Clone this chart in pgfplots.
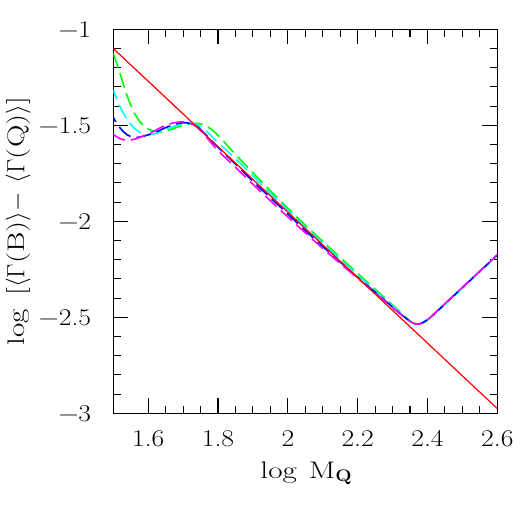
\documentclass[border=0pt]{standalone}
\usepackage{fontspec}
\setmainfont{Latin Modern Roman}[FakeStretch=1.15]
\newfontfamily\lblfont{Latin Modern Roman}[FakeStretch=1.3]
\usepackage{pgfplots}
\pgfplotsset{compat=1.18}
\definecolor{grn}{RGB}{0,255,0}
\definecolor{cyn}{RGB}{0,255,255}
\definecolor{blu}{RGB}{0,0,255}
\definecolor{mag}{RGB}{255,0,255}
\definecolor{rd}{RGB}{255,0,0}

\begin{document}
\begin{tikzpicture}
	\begin{axis}[
		name=ax, scale only axis, width=384pt, height=384pt,
		xmin=1.5, xmax=2.6, ymin=-3, ymax=-1,
		xtick={1.6,1.8,2,2.2,2.4,2.6}, ytick={-3,-2.5,-2,-1.5,-1},
		xticklabels={1.6,1.8,2,2.2,2.4,2.6},
		yticklabels={−3,−2.5,−2,−1.5,−1},
		minor x tick num=3, minor y tick num=4,
		tick pos=both, tick align=inside,
		major tick length=15pt, minor tick length=7.5pt,
		every tick/.style={black, line width=1.1pt},
		axis line style={line width=1.4pt},
		tick label style={font=\fontsize{24}{28}\selectfont, inner sep=0pt},
		xticklabel style={anchor=north, yshift=-17pt},
		yticklabel style={anchor=east, xshift=-22pt},
		label style={font=\fontsize{24}{29}\selectfont\lblfont, inner sep=0pt},
		xlabel={log\enspace M$_{\mathbf{Q}}$},
		xlabel style={at={(axis description cs:0.5,-0.156)}, anchor=center},
		ylabel={log\ \,[$\langle\Gamma$(B)$\rangle-$\ $\langle\Gamma$(Q)$\rangle$]},
		ylabel style={at={(axis description cs:-0.248,0.5)}, anchor=center},
		every axis plot/.append style={line width=1.6pt, dash pattern=on 15pt off 6pt},
		]
		% green
		\addplot[grn, smooth] coordinates {
			(1.50,-1.125) (1.52,-1.235) (1.54,-1.350) (1.56,-1.435) (1.58,-1.490) (1.60,-1.520)
			(1.62,-1.532) (1.64,-1.533) (1.66,-1.525) (1.68,-1.512) (1.70,-1.500) (1.72,-1.492)
			(1.74,-1.490) (1.76,-1.498) (1.78,-1.520) (1.80,-1.552) (1.85,-1.652) (1.90,-1.747)
			(1.95,-1.842) (2.00,-1.932) (2.05,-2.020) (2.10,-2.105) (2.15,-2.188) (2.20,-2.271)
			(2.25,-2.354) (2.30,-2.436) (2.33,-2.487) (2.35,-2.518) (2.36,-2.530) (2.37,-2.536)
			(2.38,-2.535) (2.39,-2.527) (2.40,-2.515) (2.41,-2.501) (2.43,-2.467) (2.45,-2.433)
			(2.48,-2.382) (2.50,-2.348) (2.53,-2.297) (2.55,-2.263) (2.575,-2.221) (2.60,-2.178)};
		% cyan
		\addplot[cyn, smooth, dash phase=5pt] coordinates {
			(1.50,-1.316) (1.52,-1.405) (1.54,-1.470) (1.56,-1.515) (1.58,-1.540) (1.60,-1.548)
			(1.62,-1.543) (1.64,-1.532) (1.66,-1.516) (1.68,-1.502) (1.70,-1.493) (1.72,-1.490)
			(1.74,-1.498) (1.76,-1.520) (1.78,-1.555) (1.80,-1.590) (1.85,-1.674) (1.90,-1.764)
			(1.95,-1.855) (2.00,-1.942) (2.05,-2.030) (2.10,-2.115) (2.15,-2.198) (2.20,-2.280)
			(2.25,-2.362) (2.30,-2.442) (2.33,-2.490) (2.35,-2.520) (2.36,-2.531) (2.37,-2.536)
			(2.38,-2.534) (2.39,-2.525) (2.40,-2.513) (2.41,-2.499) (2.43,-2.465) (2.45,-2.431)
			(2.48,-2.380) (2.50,-2.346) (2.53,-2.295) (2.55,-2.261) (2.575,-2.219) (2.60,-2.176)};
		% blue
		\addplot[blu, smooth, dash phase=10pt] coordinates {
			(1.50,-1.460) (1.52,-1.515) (1.54,-1.550) (1.56,-1.563) (1.58,-1.560) (1.60,-1.550)
			(1.62,-1.537) (1.64,-1.520) (1.66,-1.505) (1.68,-1.493) (1.70,-1.487) (1.72,-1.490)
			(1.74,-1.506) (1.76,-1.540) (1.78,-1.578) (1.80,-1.615) (1.85,-1.702) (1.90,-1.792)
			(1.95,-1.877) (2.00,-1.962) (2.05,-2.048) (2.10,-2.131) (2.15,-2.212) (2.20,-2.292)
			(2.25,-2.369) (2.30,-2.447) (2.33,-2.493) (2.35,-2.521) (2.36,-2.532) (2.37,-2.536)
			(2.38,-2.533) (2.39,-2.524) (2.40,-2.512) (2.41,-2.498) (2.43,-2.464) (2.45,-2.430)
			(2.48,-2.379) (2.50,-2.345) (2.53,-2.294) (2.55,-2.260) (2.575,-2.218) (2.60,-2.175)};
		% magenta
		\addplot[mag, smooth, dash phase=2pt] coordinates {
			(1.50,-1.548) (1.52,-1.570) (1.54,-1.578) (1.56,-1.573) (1.58,-1.560) (1.60,-1.545)
			(1.62,-1.527) (1.64,-1.508) (1.66,-1.494) (1.68,-1.485) (1.70,-1.482) (1.72,-1.489)
			(1.74,-1.510) (1.76,-1.547) (1.78,-1.590) (1.80,-1.632) (1.85,-1.719) (1.90,-1.807)
			(1.95,-1.893) (2.00,-1.977) (2.05,-2.060) (2.10,-2.141) (2.15,-2.220) (2.20,-2.297)
			(2.25,-2.373) (2.30,-2.450) (2.33,-2.495) (2.35,-2.522) (2.36,-2.532) (2.37,-2.536)
			(2.38,-2.533) (2.39,-2.524) (2.40,-2.512) (2.41,-2.497) (2.43,-2.463) (2.45,-2.429)
			(2.48,-2.378) (2.50,-2.344) (2.53,-2.293) (2.55,-2.259) (2.575,-2.217) (2.60,-2.174)};
		% red reference line
		\addplot[rd, solid, line width=1.2pt] coordinates {(1.5,-1.1) (2.6,-2.9755)};
	\end{axis}
	\path ([xshift=-113.3pt,yshift=-112.7pt]ax.south west) rectangle ([xshift=28.5pt,yshift=29.3pt]ax.north east);
\end{tikzpicture}
\end{document}
